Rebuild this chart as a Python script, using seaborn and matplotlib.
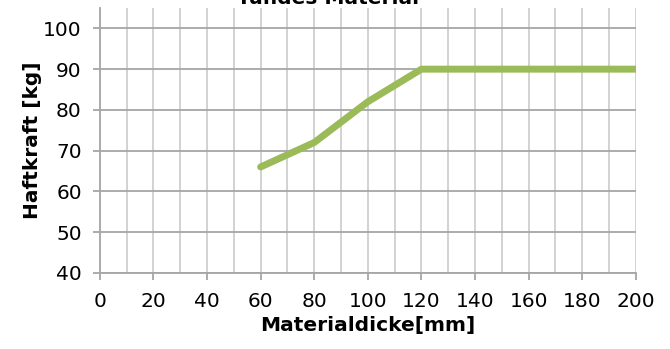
import pandas as pd
import matplotlib
matplotlib.use("Agg")
import matplotlib.pyplot as plt
import seaborn as sns

# Werte
dicke = [60, 80, 100, 120, 140, 160, 180, 200]
haftkraft = [66, 72, 82, 90, 90, 90, 90, 90]
x_ticks = list(range(0, 201, 20))
y_ticks = list(range(40, 101, 10))

df = pd.DataFrame({'Materialdicke': dicke, 'Haftkraft': haftkraft})

sns.set_style('white')
plt.rcParams['font.family'] = ['DejaVu Sans']
plt.rcParams['text.color'] = 'black'
plt.rcParams['axes.labelcolor'] = 'black'

fig = plt.figure(figsize=(6.70, 3.49), dpi=100)
ax = fig.add_axes([0.149, 0.218, 0.800, 0.759])

sns.lineplot(data=df, x='Materialdicke', y='Haftkraft', ax=ax,
             color='#9BBB59', linewidth=5.0, solid_capstyle='round')

ax.set_xlim(0, 200)
ax.set_ylim(40, 105)
ax.set_xticks(x_ticks)
ax.set_xticks(range(10, 200, 20), minor=True)
ax.set_yticks(y_ticks)
ax.grid(True, which='both', axis='x', color='#cfcfcf', linewidth=1.3)
ax.grid(True, which='major', axis='y', color='#a6a6a6', linewidth=1.3)
ax.set_axisbelow(True)

for side in ['top', 'right']:
    ax.spines[side].set_visible(False)
ax.spines['left'].set_color('#a6a6a6')
ax.spines['bottom'].set_color('#a6a6a6')
ax.spines['left'].set_linewidth(1.3)
ax.spines['bottom'].set_linewidth(1.3)

ax.tick_params(axis='both', which='major', direction='out', length=5,
               width=1.3, color='#a6a6a6', labelsize=14.5, labelcolor='black',
               bottom=True, left=True)
ax.tick_params(axis='x', which='major', pad=9)
ax.tick_params(axis='y', which='major', pad=8)
ax.tick_params(axis='x', which='minor', length=0)

ax.set_xlabel('Materialdicke[mm]', fontsize=14.5, fontweight='bold', labelpad=3)
ax.set_ylabel('Haftkraft [kg]', fontsize=14.5, fontweight='bold', labelpad=1)

# Titel oben abgeschnitten wie im Original
fig.text(0.49, 1.005, 'Tuhdes Material', ha='center', va='center',
         fontsize=14.5, fontweight='bold')

fig.savefig('out.png', dpi=100)
